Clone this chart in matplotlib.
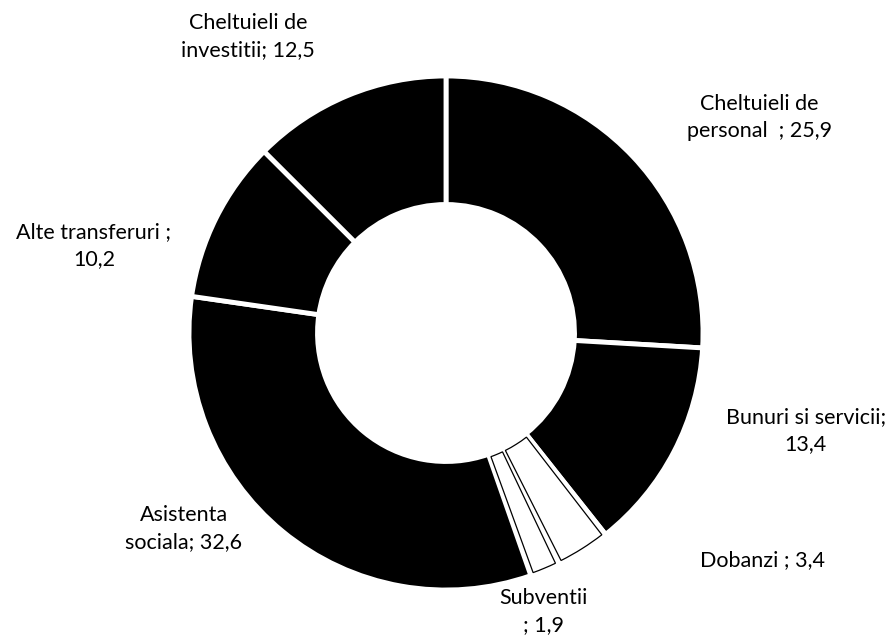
import matplotlib.pyplot as plt
from matplotlib.patches import Wedge

plt.rcParams['font.family'] = ['Lato', 'DejaVu Sans']

# structura cheltuielilor (%)
categorii = ['Cheltuieli de\npersonal  ; 25,9', 'Bunuri si servicii;\n13,4', 'Dobanzi ; 3,4',
             'Subventii\n; 1,9', 'Asistenta\nsociala; 32,6', 'Alte transferuri ;\n10,2',
             'Cheltuieli de\ninvestitii; 12,5']
valori = [25.9, 13.4, 3.4, 1.9, 32.6, 10.2, 12.5]
culori = ['black', 'black', 'white', 'white', 'black', 'black', 'black']

# pozitiile etichetelor (coordonate in unitati de raza)
pozitii = [(1.22, 0.84), (1.40, -0.38), (1.23, -0.885), (0.38, -1.085),
           (-1.02, -0.76), (-1.37, 0.34), (-0.77, 1.155)]

fig = plt.figure(figsize=(8.91, 6.39), dpi=100)
ax = fig.add_axes([0, 0, 1, 1])

wedges, _ = ax.pie(valori, colors=culori, startangle=90, counterclock=False,
                   radius=1.0, wedgeprops=dict(width=0.5, edgecolor='white', linewidth=3.5))

# contur subtire pentru sectoarele albe
for w, c in zip(wedges, culori):
    if c == 'white':
        ax.add_patch(Wedge(w.center, w.r - 0.008, w.theta1 + 0.7, w.theta2 - 0.7,
                           width=w.width - 0.02, facecolor='none',
                           edgecolor='black', linewidth=0.9))

for text, (x, y) in zip(categorii, pozitii):
    ax.text(x, y, text, ha='center', va='center', fontsize=15.5,
            linespacing=1.45, color='black')

ax.set_xlim(-446 / 257, (891 - 446) / 257)
ax.set_ylim(-(639 - 333) / 257, 333 / 257)
ax.set_aspect('auto')
ax.axis('off')

fig.savefig('out.png', dpi=100)
